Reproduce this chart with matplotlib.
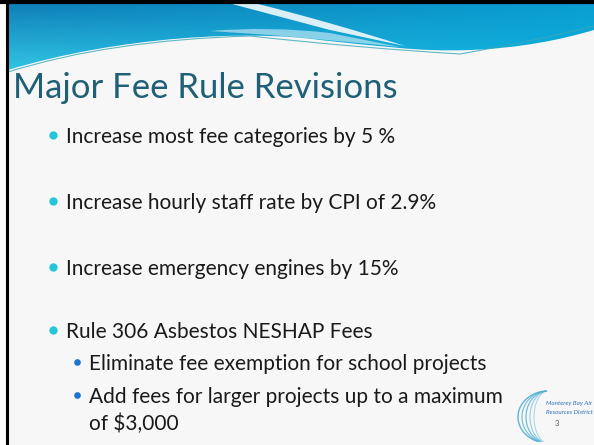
import numpy as np
import matplotlib.pyplot as plt
from matplotlib.path import Path
from matplotlib.patches import PathPatch

# slide content
title = "Major Fee Rule Revisions"
bullet_lines = [
    "Increase most fee categories by 5 %",
    "Increase hourly staff rate by CPI of 2.9%",
    "Increase emergency engines by 15%",
    "Rule 306 Asbestos NESHAP Fees",
    "Eliminate fee exemption for school projects",
    "Add fees for larger projects up to a maximum",
    "of $3,000",
]
bullet_levels = [1, 1, 1, 1, 2, 2, 2]
has_bullet = [True, True, True, True, True, True, False]
logo_lines = ["Monterey Bay Air", "Resources District"]
page_number = "3"

# layout (pixel coordinates, y down)
W, H = 594, 445
baselines = [143, 209, 275, 338, 370, 403, 430]
text_x = {1: 66, 2: 89}
dot_x = {1: 53, 2: 77}
dot_style = {1: ("#25c6da", 6.0), 2: ("#1f74cf", 4.8)}
font_size = {1: 15, 2: 15}

plt.rcParams['font.family'] = ['Lato', 'DejaVu Sans']

fig = plt.figure(figsize=(W / 100, H / 100), dpi=100)
fig.patch.set_facecolor("white")
ax = fig.add_axes([0, 0, 1, 1])
ax.set_xlim(0, W)
ax.set_ylim(H, 0)
ax.axis("off")

# slide background
ax.add_patch(plt.Rectangle((8, 4), W - 8, H - 4, color="#f7f7f7", zorder=0))

# header band with gradient
band = Path(
    [(8, 4), (W, 4), (W, 30),
     (560, 40), (520, 48), (470, 50),
     (420, 52), (380, 46), (320, 40),
     (250, 30), (120, 36), (8, 70),
     (8, 4)],
    [Path.MOVETO, Path.LINETO, Path.LINETO,
     Path.CURVE4, Path.CURVE4, Path.CURVE4,
     Path.CURVE4, Path.CURVE4, Path.CURVE4,
     Path.CURVE4, Path.CURVE4, Path.CURVE4,
     Path.CLOSEPOLY])
clip = PathPatch(band, transform=ax.transData, facecolor="none", edgecolor="none")
ax.add_patch(clip)

gx = np.linspace(0, 1, 200)
gy = np.linspace(0, 1, 80)[:, None]
top_c = np.array([0.06, 0.50, 0.72])
top_r = np.array([0.04, 0.62, 0.82])
bot_c = np.array([0.20, 0.78, 0.90])
bot_r = np.array([0.05, 0.70, 0.88])
img = ((1 - gy)[..., None] * (top_c * (1 - gx)[:, None] + top_r * gx[:, None])
       + gy[..., None] * (bot_c * (1 - gx)[:, None] + bot_r * gx[:, None]))
im = ax.imshow(img, extent=(8, W, 72, 4), aspect="auto", zorder=1,
               interpolation="bilinear")
im.set_clip_path(clip)

# white highlight streak
streak = Path(
    [(232, 4), (258, 4), (330, 22), (405, 46), (330, 30), (232, 4)],
    [Path.MOVETO, Path.LINETO, Path.CURVE3, Path.CURVE3, Path.LINETO,
     Path.CLOSEPOLY])
ax.add_patch(PathPatch(streak, facecolor="white", edgecolor="none",
                       alpha=0.85, zorder=2))
lite = Path(
    [(210, 31), (270, 26), (330, 33), (400, 47), (330, 40), (270, 35), (210, 31)],
    [Path.MOVETO, Path.CURVE3, Path.CURVE3, Path.LINETO, Path.CURVE3,
     Path.CURVE3, Path.CLOSEPOLY])
ax.add_patch(PathPatch(lite, facecolor="white", edgecolor="none",
                       alpha=0.5, zorder=2))

# thin teal line under the band
line = Path([(8, 72), (110, 40), (250, 36), (360, 48), (460, 54), (540, 40), (594, 26)],
            [Path.MOVETO, Path.CURVE3, Path.CURVE3, Path.CURVE3, Path.CURVE3,
             Path.CURVE3, Path.CURVE3])
ax.add_patch(PathPatch(line, facecolor="none", edgecolor="#3aa8b8",
                       lw=0.8, alpha=0.8, zorder=2))

# black frame on top and left
ax.plot([0, W], [2, 2], color="black", lw=3, zorder=5, solid_capstyle="butt")
ax.plot([6.5, 6.5], [0, H], color="black", lw=2.2, zorder=5, solid_capstyle="butt")

# title
ax.text(13, 98, title, fontsize=25, color="#1f5f78", ha="left", va="baseline",
        zorder=4)

# bullets
for txt, lvl, bul, base in zip(bullet_lines, bullet_levels, has_bullet, baselines):
    ax.text(text_x[lvl], base, txt, fontsize=font_size[lvl], color="#1a1a1a",
            ha="left", va="baseline", zorder=4)
    if bul:
        col, ms = dot_style[lvl]
        ax.plot(dot_x[lvl], base - 8, "o", color=col, ms=ms, mec="none", zorder=4)

# logo arcs
t = np.linspace(np.radians(95), np.radians(250), 80)
for rx, a, lw in [(30, 0.9, 1.0), (26, 0.75, 0.9), (22, 0.8, 0.9),
                  (18, 0.6, 0.8), (14, 0.5, 0.7)]:
    xs = 548 + rx * np.cos(t)
    ys = 417 - 26 * np.sin(t)
    ax.plot(xs, ys, color="#4fb0d2", lw=lw, alpha=a, zorder=3)
ax.text(569, 403, logo_lines[0], fontsize=4.5, style="italic", color="#2f6fbf",
        ha="center", va="center", zorder=4)
ax.text(569, 412, logo_lines[1], fontsize=4.5, style="italic", color="#2f6fbf",
        ha="center", va="center", zorder=4)
ax.text(557, 423, page_number, fontsize=5.5, color="#555555", ha="center",
        va="center", zorder=4)

fig.savefig("out.png", dpi=100, facecolor="white")
